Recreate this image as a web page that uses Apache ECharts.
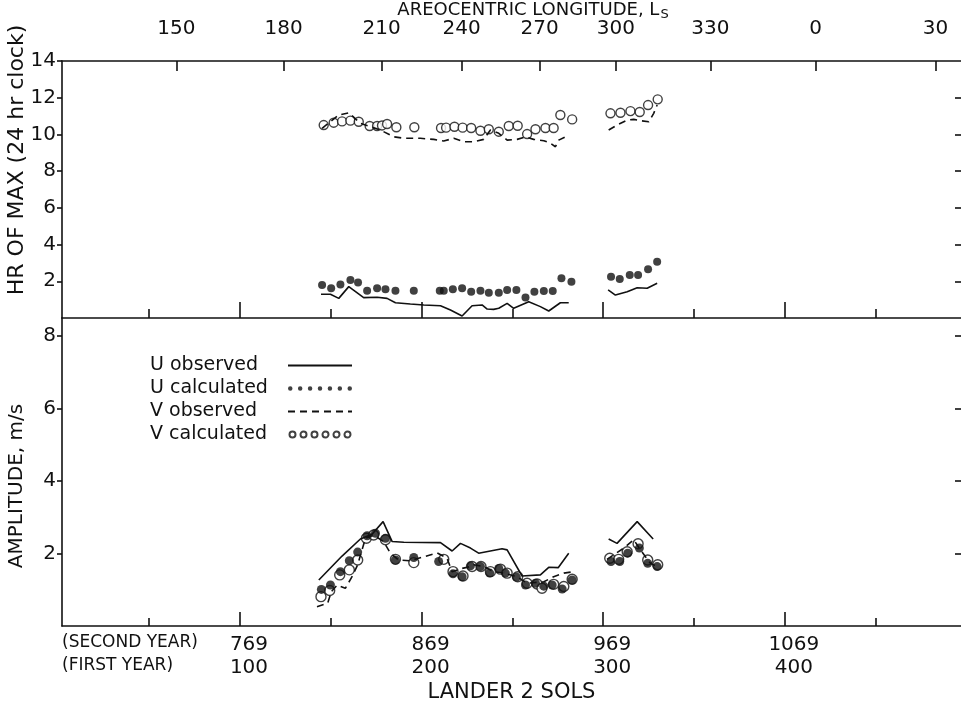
<!DOCTYPE html>
<html>
<head>
<meta charset="utf-8">
<script src="https://cdn.jsdelivr.net/npm/echarts@6/dist/echarts.min.js"></script>
<style>
  html, body { margin: 0; padding: 0; background: #fff; }
  #main { width: 961px; height: 706px; }
</style>
</head>
<body>
<div id="main"></div>
<script>
// top axis: areocentric longitude labels and the sol where each falls
var lsLabels = ['150', '180', '210', '240', '270', '300', '330', '0', '30'];
var lsSols = [65, 124, 178, 222, 265, 307, 359, 417, 483];

// bottom axis: first-year sols with matching second-year sols
var solTicks = [100, 200, 300, 400];
var secondYear = ['769', '869', '969', '1069'];
var minorSols = [50, 150, 250, 350, 450];

var hrTicks = [2, 4, 6, 8, 10, 12, 14];
var ampTicks = [2, 4, 6, 8];

// hour of max, [sol, hr]
var uObsHr1 = [[144.6,1.29],[149.8,1.29],[154.4,1.07],[159.9,1.71],[168.1,1.11],[175.5,1.13],[181.0,1.07],[185.6,0.83],[193.8,0.76],[201.2,0.71],[210.4,0.67],[215.9,0.44],[222.3,0.11],[227.8,0.67],[233.3,0.71],[236.1,0.49],[239.7,0.47],[242.5,0.53],[247.1,0.80],[250.7,0.53],[259.0,0.89],[265.4,0.62],[270.0,0.38],[276.4,0.83],[281.0,0.83]];
var uObsHr2 = [[302.7,1.53],[306.7,1.25],[313.2,1.43],[318.7,1.65],[324.2,1.62],[329.7,1.89]];
var uCalHr = [[145.2,1.80],[150.2,1.62],[155.3,1.83],[160.8,2.07],[165.0,1.94],[170.0,1.49],[175.5,1.62],[180.1,1.56],[185.6,1.49],[195.7,1.49],[210.0,1.49],[212.2,1.49],[217.2,1.56],[222.3,1.62],[227.3,1.43],[232.4,1.49],[237.0,1.38],[242.5,1.38],[247.1,1.53],[252.2,1.53],[257.2,1.11],[262.1,1.43],[267.3,1.47],[272.2,1.47],[277.0,2.16],[282.5,1.98],[304.3,2.25],[309.1,2.12],[314.6,2.34],[319.2,2.34],[324.7,2.65],[329.7,3.07]];
var vObsHr1 = [[145.2,10.33],[154.4,11.06],[159.9,11.18],[166.3,10.60],[177.3,10.24],[184.6,9.87],[190.2,9.79],[199.3,9.79],[206.7,9.73],[212.2,9.64],[217.7,9.79],[223.2,9.60],[228.7,9.60],[234.2,9.73],[237.9,10.24],[242.5,10.06],[247.1,9.69],[252.6,9.73],[257.2,9.87],[261.7,9.73],[267.3,9.66],[270.9,9.52],[273.7,9.33],[275.5,9.69],[280.1,9.91]];
var vObsHr2 = [[303.0,10.24],[307.6,10.51],[313.2,10.78],[316.8,10.82],[320.5,10.75],[325.1,10.69],[327.8,11.15],[329.7,11.60]];
var vCalHr = [[146.1,10.51],[151.6,10.64],[156.2,10.71],[160.8,10.75],[165.4,10.69],[171.4,10.46],[175.5,10.46],[178.2,10.49],[181.0,10.57],[186.1,10.39],[196.0,10.39],[210.7,10.35],[213.5,10.37],[218.1,10.42],[222.6,10.37],[227.3,10.35],[232.4,10.20],[237.0,10.28],[242.5,10.15],[248.0,10.46],[252.9,10.47],[258.1,10.02],[262.7,10.28],[268.2,10.35],[272.7,10.35],[276.4,11.06],[282.9,10.82],[304.0,11.15],[309.5,11.18],[315.0,11.27],[320.1,11.22],[324.7,11.60],[330.0,11.91]];

// amplitude, [sol, m/s]
var uObsAmp1 = [[143.4,1.27],[156.2,1.93],[166.3,2.40],[172.7,2.53],[178.8,2.88],[183.8,2.33],[190.2,2.31],[210.4,2.30],[216.8,2.07],[221.4,2.28],[226.9,2.15],[231.4,2.01],[244.3,2.13],[247.1,2.10],[255.3,1.38],[265.4,1.41],[270.0,1.62],[275.2,1.61],[281.0,2.01]];
var uObsAmp2 = [[303.0,2.40],[307.6,2.28],[318.7,2.88],[327.5,2.40]];
var vObsAmp1 = [[142.4,0.53],[148.3,0.63],[150.3,0.95],[153.5,1.13],[158.0,1.04],[161.7,1.36],[164.8,1.69],[167.2,2.10],[169.1,2.42],[173.6,2.51],[179.1,2.33],[182.8,2.01],[187.4,1.82],[193.8,1.80],[201.2,1.91],[208.5,2.02],[214.0,1.87],[216.8,1.50],[222.3,1.59],[226.9,1.64],[228.7,1.69],[234.2,1.64],[239.7,1.50],[245.2,1.46],[252.6,1.36],[258.1,1.18],[267.3,1.22],[272.7,1.36],[278.3,1.46],[283.8,1.50]];
var vObsAmp2 = [[302.1,1.84],[311.3,2.15],[316.8,2.38],[320.5,2.10],[326.0,1.73],[329.7,1.64]];
var uCalAmp = [[144.8,1.01],[149.8,1.13],[155.3,1.50],[160.2,1.80],[164.8,2.04],[170.0,2.49],[174.6,2.56],[180.1,2.42],[185.6,1.82],[195.7,1.89],[209.4,1.78],[217.3,1.44],[222.3,1.36],[226.9,1.66],[232.4,1.64],[237.5,1.46],[242.5,1.59],[246.1,1.46],[252.2,1.35],[257.2,1.13],[262.7,1.18],[267.3,1.10],[271.9,1.13],[277.4,1.02],[282.9,1.27],[304.3,1.78],[309.1,1.78],[313.5,2.01],[319.9,2.15],[324.5,1.73],[329.7,1.64]];
var vCalAmp = [[144.6,0.81],[149.4,0.98],[154.9,1.41],[160.2,1.55],[164.8,1.82],[169.6,2.42],[173.6,2.51],[180.1,2.38],[185.6,1.84],[195.7,1.75],[212.2,1.84],[217.3,1.50],[222.8,1.38],[227.8,1.64],[232.7,1.64],[237.9,1.50],[243.4,1.57],[247.1,1.46],[252.9,1.36],[258.1,1.18],[263.6,1.16],[266.3,1.04],[272.7,1.15],[278.3,1.09],[282.9,1.29],[303.6,1.87],[308.5,1.84],[313.2,2.05],[319.2,2.27],[324.5,1.82],[330.0,1.69]];

var INK = '#111';
var FONT = 'DejaVu Sans';
var GAP = [['-', '-']];

function joined(a, b) { return a.concat(GAP, b); }

var chart = echarts.init(document.getElementById('main'));

var lineCommon = { type: 'line', symbol: 'none', silent: true, color: INK };
var solidLine = { color: INK, width: 1.6, type: 'solid' };
var dashLine = { color: INK, width: 1.6, type: [7, 5] };
var dotStyle = { color: INK };
var ringStyle = { color: '#fff', borderColor: INK, borderWidth: 1.4 };

function xBase(grid, pos) {
  return {
    type: 'value', gridIndex: grid, position: pos, min: 2, max: 497,
    splitLine: { show: false },
    axisLine: { show: false, lineStyle: { color: INK, width: 1.6 } },
    axisTick: { show: false },
    axisLabel: { show: false }
  };
}

var xAxes = [];
// 0: divider, short ticks
var a0 = xBase(0, 'bottom');
a0.axisLine.show = true;
a0.axisTick = { show: true, inside: true, length: 9, customValues: minorSols, lineStyle: { color: INK, width: 1.6 } };
xAxes.push(a0);
// 1: divider, long ticks
var a1 = xBase(0, 'bottom');
a1.axisTick = { show: true, inside: true, length: 16, customValues: solTicks, lineStyle: { color: INK, width: 1.6 } };
xAxes.push(a1);
// 2: top, areocentric longitude
var a2 = xBase(0, 'top');
a2.axisLine.show = true;
a2.axisTick = { show: true, inside: true, length: 10, customValues: lsSols, lineStyle: { color: INK, width: 1.6 } };
a2.axisLabel = {
  show: true, customValues: lsSols, margin: 22, color: INK, fontFamily: FONT, fontSize: 20,
  formatter: function (v) { var i = lsSols.indexOf(v); return i < 0 ? '' : lsLabels[i]; }
};
xAxes.push(a2);
// 3: bottom, sols with labels
var a3 = xBase(1, 'bottom');
a3.axisLine.show = true;
a3.axisTick = { show: true, inside: true, length: 14, customValues: solTicks, lineStyle: { color: INK, width: 1.6 } };
a3.axisLabel = {
  show: true, customValues: solTicks, margin: 7, color: INK, fontFamily: FONT, fontSize: 20, lineHeight: 23,
  padding: [0, 0, 0, 18],
  formatter: function (v) { var i = solTicks.indexOf(v); return i < 0 ? '' : secondYear[i] + '\n' + v; }
};
a3.name = 'LANDER 2 SOLS';
a3.nameLocation = 'middle';
a3.nameGap = 56;
a3.nameTextStyle = { color: INK, fontFamily: FONT, fontSize: 21 };
xAxes.push(a3);
// 4: bottom, short ticks
var a4 = xBase(1, 'bottom');
a4.axisTick = { show: true, inside: true, length: 8, customValues: minorSols, lineStyle: { color: INK, width: 1.6 } };
xAxes.push(a4);

function yLeft(grid, max, ticks) {
  return {
    type: 'value', gridIndex: grid, position: 'left', min: 0, max: max,
    splitLine: { show: false },
    axisLine: { show: true, lineStyle: { color: INK, width: 1.6 } },
    axisTick: { show: true, inside: false, length: 5, customValues: ticks, lineStyle: { color: INK, width: 1.6 } },
    axisLabel: { show: true, customValues: ticks, margin: 6, color: INK, fontFamily: FONT, fontSize: 20 }
  };
}
function yRight(grid, max, ticks) {
  return {
    type: 'value', gridIndex: grid, position: 'right', min: 0, max: max,
    splitLine: { show: false },
    axisLine: { show: false },
    axisTick: { show: true, inside: true, length: 6, customValues: ticks, lineStyle: { color: INK, width: 1.6 } },
    axisLabel: { show: false }
  };
}

var hideSymbol = { opacity: 0 };

var option = {
  backgroundColor: '#fff',
  animation: false,
  textStyle: { fontFamily: FONT, color: INK },
  grid: [
    { left: 62, right: 0, top: 61, height: 257, outerBoundsMode: 'none' },
    { left: 62, right: 0, top: 318, height: 308, outerBoundsMode: 'none' }
  ],
  xAxis: xAxes,
  yAxis: [
    yLeft(0, 14, hrTicks),
    yRight(0, 14, [2, 4, 6, 8, 10, 12]),
    yLeft(1, 8.5, ampTicks),
    yRight(1, 8.5, ampTicks)
  ],
  legend: {
    orient: 'vertical', left: 145, top: 351, align: 'right',
    itemWidth: 64, itemHeight: 6, itemGap: 4,
    selectedMode: false,
    textStyle: { color: INK, fontFamily: FONT, fontSize: 19, lineHeight: 18,
      rich: { t: { width: 133, align: 'left', fontSize: 19, fontFamily: FONT, color: INK } } },
    formatter: function (name) { return '{t|' + name + '}'; },
    data: [
      { name: 'U observed', itemStyle: hideSymbol },
      { name: 'U calculated', icon: 'path://M2.5,3a2.5,2.5 0 1,0 0.01,0zM13.5,3a2.5,2.5 0 1,0 0.01,0zM24.5,3a2.5,2.5 0 1,0 0.01,0zM35.5,3a2.5,2.5 0 1,0 0.01,0zM46.5,3a2.5,2.5 0 1,0 0.01,0zM57.5,3a2.5,2.5 0 1,0 0.01,0zM68.5,3a2.5,2.5 0 1,0 0.01,0z' },
      { name: 'V observed', itemStyle: hideSymbol },
      { name: 'V calculated', icon: 'path://M3,3a3,3 0 1,0 0.01,0zM14,3a3,3 0 1,0 0.01,0zM25,3a3,3 0 1,0 0.01,0zM36,3a3,3 0 1,0 0.01,0zM47,3a3,3 0 1,0 0.01,0zM58,3a3,3 0 1,0 0.01,0z' }
    ]
  },
  graphic: [
    { type: 'text', x: 533, y: 10,
      style: { text: 'AREOCENTRIC LONGITUDE, L{sub|S}', font: '18px "DejaVu Sans"', fill: INK, align: 'center', verticalAlign: 'middle',
        rich: { sub: { fontSize: 13, fontFamily: FONT, fill: INK, padding: [10, 0, 0, 1] } } } },
    { type: 'text', rotation: Math.PI / 2, x: 17, y: 160,
      style: { text: 'HR OF MAX (24 hr clock)', font: '22px "DejaVu Sans"', fill: INK, align: 'center', verticalAlign: 'middle' } },
    { type: 'text', rotation: Math.PI / 2, x: 17, y: 486,
      style: { text: 'AMPLITUDE, m/s', font: '20px "DejaVu Sans"', fill: INK, align: 'center', verticalAlign: 'middle' } },
    { type: 'text', x: 62, y: 643,
      style: { text: '(SECOND YEAR)', font: '17px "DejaVu Sans"', fill: INK, verticalAlign: 'middle' } },
    { type: 'text', x: 62, y: 666,
      style: { text: '(FIRST YEAR)', font: '17px "DejaVu Sans"', fill: INK, verticalAlign: 'middle' } }
  ],
  series: [
    Object.assign({}, lineCommon, { name: 'U observed', xAxisIndex: 0, yAxisIndex: 0, data: joined(uObsHr1, uObsHr2), lineStyle: solidLine }),
    Object.assign({}, lineCommon, { name: 'V observed', xAxisIndex: 0, yAxisIndex: 0, data: joined(vObsHr1, vObsHr2), lineStyle: dashLine }),
    { name: 'U calculated', type: 'scatter', xAxisIndex: 0, yAxisIndex: 0, symbolSize: 8, itemStyle: dotStyle, data: uCalHr, silent: true },
    { name: 'V calculated', type: 'scatter', xAxisIndex: 0, yAxisIndex: 0, symbolSize: 9, itemStyle: ringStyle, data: vCalHr, silent: true },

    Object.assign({}, lineCommon, { name: 'U observed', xAxisIndex: 3, yAxisIndex: 2, data: joined(uObsAmp1, uObsAmp2), lineStyle: solidLine }),
    Object.assign({}, lineCommon, { name: 'V observed', xAxisIndex: 3, yAxisIndex: 2, data: joined(vObsAmp1, vObsAmp2), lineStyle: dashLine }),
    { name: 'V calculated', type: 'scatter', xAxisIndex: 3, yAxisIndex: 2, symbolSize: 10, itemStyle: ringStyle, data: vCalAmp, silent: true },
    { name: 'U calculated', type: 'scatter', xAxisIndex: 3, yAxisIndex: 2, symbolSize: 9, itemStyle: dotStyle, data: uCalAmp, silent: true }
  ]
};

chart.setOption(option);
</script>
</body>
</html>
